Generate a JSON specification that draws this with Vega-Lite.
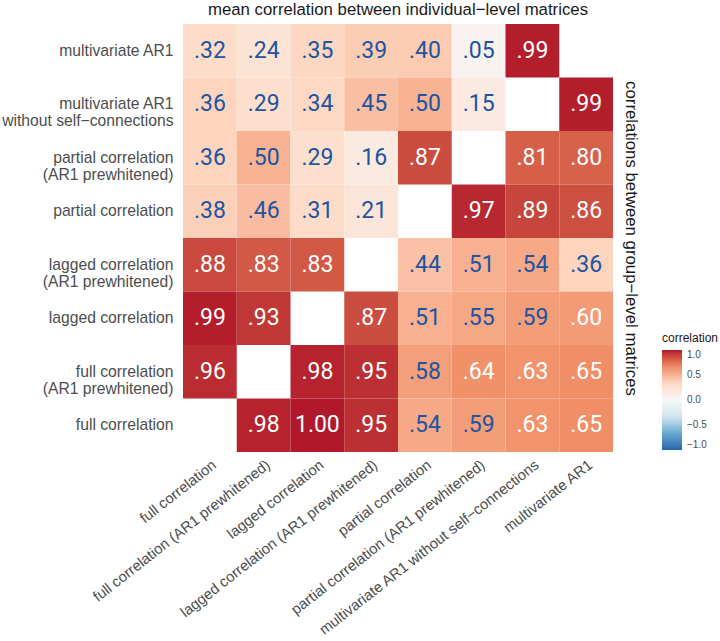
{
  "$schema": "https://vega.github.io/schema/vega-lite/v6.json",
  "autosize": {"type": "none"},
  "padding": {"left": 183, "top": 24, "right": 107, "bottom": 189},
  "width": 430,
  "height": 428,
  "background": "white",
  "title": {
    "text": "mean correlation between individual−level matrices",
    "anchor": "middle",
    "frame": "group",
    "font": "Liberation Sans",
    "fontSize": 16.8,
    "fontWeight": "normal",
    "color": "#1a1a1a",
    "offset": 5
  },
  "config": {
    "view": {"stroke": null},
    "axis": {"grid": false, "domain": false, "ticks": false, "tickSize": 0}
  },
  "data": {
    "values": [
      {"row": "multivariate AR1", "col": "full correlation", "v": 0.32},
      {"row": "multivariate AR1", "col": "full correlation (AR1 prewhitened)", "v": 0.24},
      {"row": "multivariate AR1", "col": "lagged correlation", "v": 0.35},
      {"row": "multivariate AR1", "col": "lagged correlation (AR1 prewhitened)", "v": 0.39},
      {"row": "multivariate AR1", "col": "partial correlation", "v": 0.40},
      {"row": "multivariate AR1", "col": "partial correlation (AR1 prewhitened)", "v": 0.05},
      {"row": "multivariate AR1", "col": "multivariate AR1 without self−connections", "v": 0.99},

      {"row": "multivariate AR1 without self−connections", "col": "full correlation", "v": 0.36},
      {"row": "multivariate AR1 without self−connections", "col": "full correlation (AR1 prewhitened)", "v": 0.29},
      {"row": "multivariate AR1 without self−connections", "col": "lagged correlation", "v": 0.34},
      {"row": "multivariate AR1 without self−connections", "col": "lagged correlation (AR1 prewhitened)", "v": 0.45},
      {"row": "multivariate AR1 without self−connections", "col": "partial correlation", "v": 0.50},
      {"row": "multivariate AR1 without self−connections", "col": "partial correlation (AR1 prewhitened)", "v": 0.15},
      {"row": "multivariate AR1 without self−connections", "col": "multivariate AR1", "v": 0.99},

      {"row": "partial correlation (AR1 prewhitened)", "col": "full correlation", "v": 0.36},
      {"row": "partial correlation (AR1 prewhitened)", "col": "full correlation (AR1 prewhitened)", "v": 0.50},
      {"row": "partial correlation (AR1 prewhitened)", "col": "lagged correlation", "v": 0.29},
      {"row": "partial correlation (AR1 prewhitened)", "col": "lagged correlation (AR1 prewhitened)", "v": 0.16},
      {"row": "partial correlation (AR1 prewhitened)", "col": "partial correlation", "v": 0.87},
      {"row": "partial correlation (AR1 prewhitened)", "col": "multivariate AR1 without self−connections", "v": 0.81},
      {"row": "partial correlation (AR1 prewhitened)", "col": "multivariate AR1", "v": 0.80},

      {"row": "partial correlation", "col": "full correlation", "v": 0.38},
      {"row": "partial correlation", "col": "full correlation (AR1 prewhitened)", "v": 0.46},
      {"row": "partial correlation", "col": "lagged correlation", "v": 0.31},
      {"row": "partial correlation", "col": "lagged correlation (AR1 prewhitened)", "v": 0.21},
      {"row": "partial correlation", "col": "partial correlation (AR1 prewhitened)", "v": 0.97},
      {"row": "partial correlation", "col": "multivariate AR1 without self−connections", "v": 0.89},
      {"row": "partial correlation", "col": "multivariate AR1", "v": 0.86},

      {"row": "lagged correlation (AR1 prewhitened)", "col": "full correlation", "v": 0.88},
      {"row": "lagged correlation (AR1 prewhitened)", "col": "full correlation (AR1 prewhitened)", "v": 0.83},
      {"row": "lagged correlation (AR1 prewhitened)", "col": "lagged correlation", "v": 0.83},
      {"row": "lagged correlation (AR1 prewhitened)", "col": "partial correlation", "v": 0.44},
      {"row": "lagged correlation (AR1 prewhitened)", "col": "partial correlation (AR1 prewhitened)", "v": 0.51},
      {"row": "lagged correlation (AR1 prewhitened)", "col": "multivariate AR1 without self−connections", "v": 0.54},
      {"row": "lagged correlation (AR1 prewhitened)", "col": "multivariate AR1", "v": 0.36},

      {"row": "lagged correlation", "col": "full correlation", "v": 0.99},
      {"row": "lagged correlation", "col": "full correlation (AR1 prewhitened)", "v": 0.93},
      {"row": "lagged correlation", "col": "lagged correlation (AR1 prewhitened)", "v": 0.87},
      {"row": "lagged correlation", "col": "partial correlation", "v": 0.51},
      {"row": "lagged correlation", "col": "partial correlation (AR1 prewhitened)", "v": 0.55},
      {"row": "lagged correlation", "col": "multivariate AR1 without self−connections", "v": 0.59},
      {"row": "lagged correlation", "col": "multivariate AR1", "v": 0.60},

      {"row": "full correlation (AR1 prewhitened)", "col": "full correlation", "v": 0.96},
      {"row": "full correlation (AR1 prewhitened)", "col": "lagged correlation", "v": 0.98},
      {"row": "full correlation (AR1 prewhitened)", "col": "lagged correlation (AR1 prewhitened)", "v": 0.95},
      {"row": "full correlation (AR1 prewhitened)", "col": "partial correlation", "v": 0.58},
      {"row": "full correlation (AR1 prewhitened)", "col": "partial correlation (AR1 prewhitened)", "v": 0.64},
      {"row": "full correlation (AR1 prewhitened)", "col": "multivariate AR1 without self−connections", "v": 0.63},
      {"row": "full correlation (AR1 prewhitened)", "col": "multivariate AR1", "v": 0.65},

      {"row": "full correlation", "col": "full correlation (AR1 prewhitened)", "v": 0.98},
      {"row": "full correlation", "col": "lagged correlation", "v": 1.00},
      {"row": "full correlation", "col": "lagged correlation (AR1 prewhitened)", "v": 0.95},
      {"row": "full correlation", "col": "partial correlation", "v": 0.54},
      {"row": "full correlation", "col": "partial correlation (AR1 prewhitened)", "v": 0.59},
      {"row": "full correlation", "col": "multivariate AR1 without self−connections", "v": 0.63},
      {"row": "full correlation", "col": "multivariate AR1", "v": 0.65}
    ]
  },
  "transform": [
    {"calculate": "datum.v >= 1 ? format(datum.v, '.2f') : substring(format(datum.v, '.2f'), 1)", "as": "lbl"}
  ],
  "encoding": {
    "x": {
      "field": "col",
      "type": "nominal",
      "sort": ["full correlation", "full correlation (AR1 prewhitened)", "lagged correlation", "lagged correlation (AR1 prewhitened)", "partial correlation", "partial correlation (AR1 prewhitened)", "multivariate AR1 without self−connections", "multivariate AR1"],
      "scale": {"paddingInner": 0, "paddingOuter": 0},
      "axis": {
        "title": null,
        "labelAngle": -38,
        "labelAlign": "right",
        "labelBaseline": "top",
        "labelPadding": 5,
        "labelFont": "Liberation Sans",
        "labelFontSize": 14.8,
        "labelColor": "#4d4d4d",
        "labelLimit": 400
      }
    },
    "y": {
      "field": "row",
      "type": "nominal",
      "sort": ["multivariate AR1", "multivariate AR1 without self−connections", "partial correlation (AR1 prewhitened)", "partial correlation", "lagged correlation (AR1 prewhitened)", "lagged correlation", "full correlation (AR1 prewhitened)", "full correlation"],
      "scale": {"paddingInner": 0, "paddingOuter": 0}
    }
  },
  "layer": [
    {
      "mark": {"type": "rect"},
      "encoding": {
        "y": {
          "field": "row",
          "type": "nominal",
          "sort": ["multivariate AR1", "multivariate AR1 without self−connections", "partial correlation (AR1 prewhitened)", "partial correlation", "lagged correlation (AR1 prewhitened)", "lagged correlation", "full correlation (AR1 prewhitened)", "full correlation"],
          "scale": {"paddingInner": 0, "paddingOuter": 0},
          "axis": {
            "orient": "left",
            "title": null,
            "labelPadding": 10,
            "labelFont": "Liberation Sans",
            "labelFontSize": 15.7,
            "labelColor": "#4d4d4d",
            "labelLineHeight": 17,
            "labelLimit": 300,
            "labelExpr": "datum.value == 'multivariate AR1 without self−connections' ? ['multivariate AR1', 'without self−connections'] : indexof(datum.value, ' (') > 0 ? [substring(datum.value, 0, indexof(datum.value, ' (')), substring(datum.value, indexof(datum.value, ' (') + 1)] : datum.value"
          }
        },
        "color": {
          "field": "v",
          "type": "quantitative",
          "title": "correlation",
          "scale": {
            "domain": [-1, -0.6667, -0.3333, 0, 0.3333, 0.6667, 1],
            "range": ["#2166ac", "#67a9cf", "#d1e5f0", "#f7f7f7", "#fddbc7", "#ef8a62", "#b2182b"],
            "interpolate": "lab"
          },
          "legend": {
            "orient": "none",
            "legendX": 479,
            "legendY": 309,
            "direction": "vertical",
            "gradientLength": 100,
            "gradientThickness": 20,
            "gradientStrokeWidth": 0,
            "values": [1, 0.5, 0, -0.5, -1],
            "format": ".1f",
            "titleFont": "Liberation Sans",
            "titleFontSize": 12,
            "titleFontWeight": "normal",
            "titleColor": "#1a1a1a",
            "titlePadding": 5,
            "labelFont": "Liberation Sans",
            "labelFontSize": 10,
            "labelColor": "#4d4d4d",
            "labelOffset": 5
          }
        }
      }
    },
    {
      "mark": {"type": "text", "font": "Roboto", "fontSize": 23},
      "encoding": {
        "y": {
          "field": "row",
          "type": "nominal",
          "sort": ["multivariate AR1", "multivariate AR1 without self−connections", "partial correlation (AR1 prewhitened)", "partial correlation", "lagged correlation (AR1 prewhitened)", "lagged correlation", "full correlation (AR1 prewhitened)", "full correlation"],
          "scale": {"paddingInner": 0, "paddingOuter": 0},
          "axis": {
            "orient": "right",
            "labels": false,
            "title": "correlations between group−level matrices",
            "titleAngle": 90,
            "titleFont": "Liberation Sans",
            "titleFontSize": 16.8,
            "titleFontWeight": "normal",
            "titleColor": "#1a1a1a",
            "titlePadding": 8
          }
        },
        "text": {"field": "lbl", "type": "nominal"},
        "color": {
          "condition": {"test": "datum.v >= 0.6", "value": "#ffffff"},
          "value": "#2054a0"
        }
      }
    }
  ],
  "resolve": {"axis": {"y": "independent"}}
}
